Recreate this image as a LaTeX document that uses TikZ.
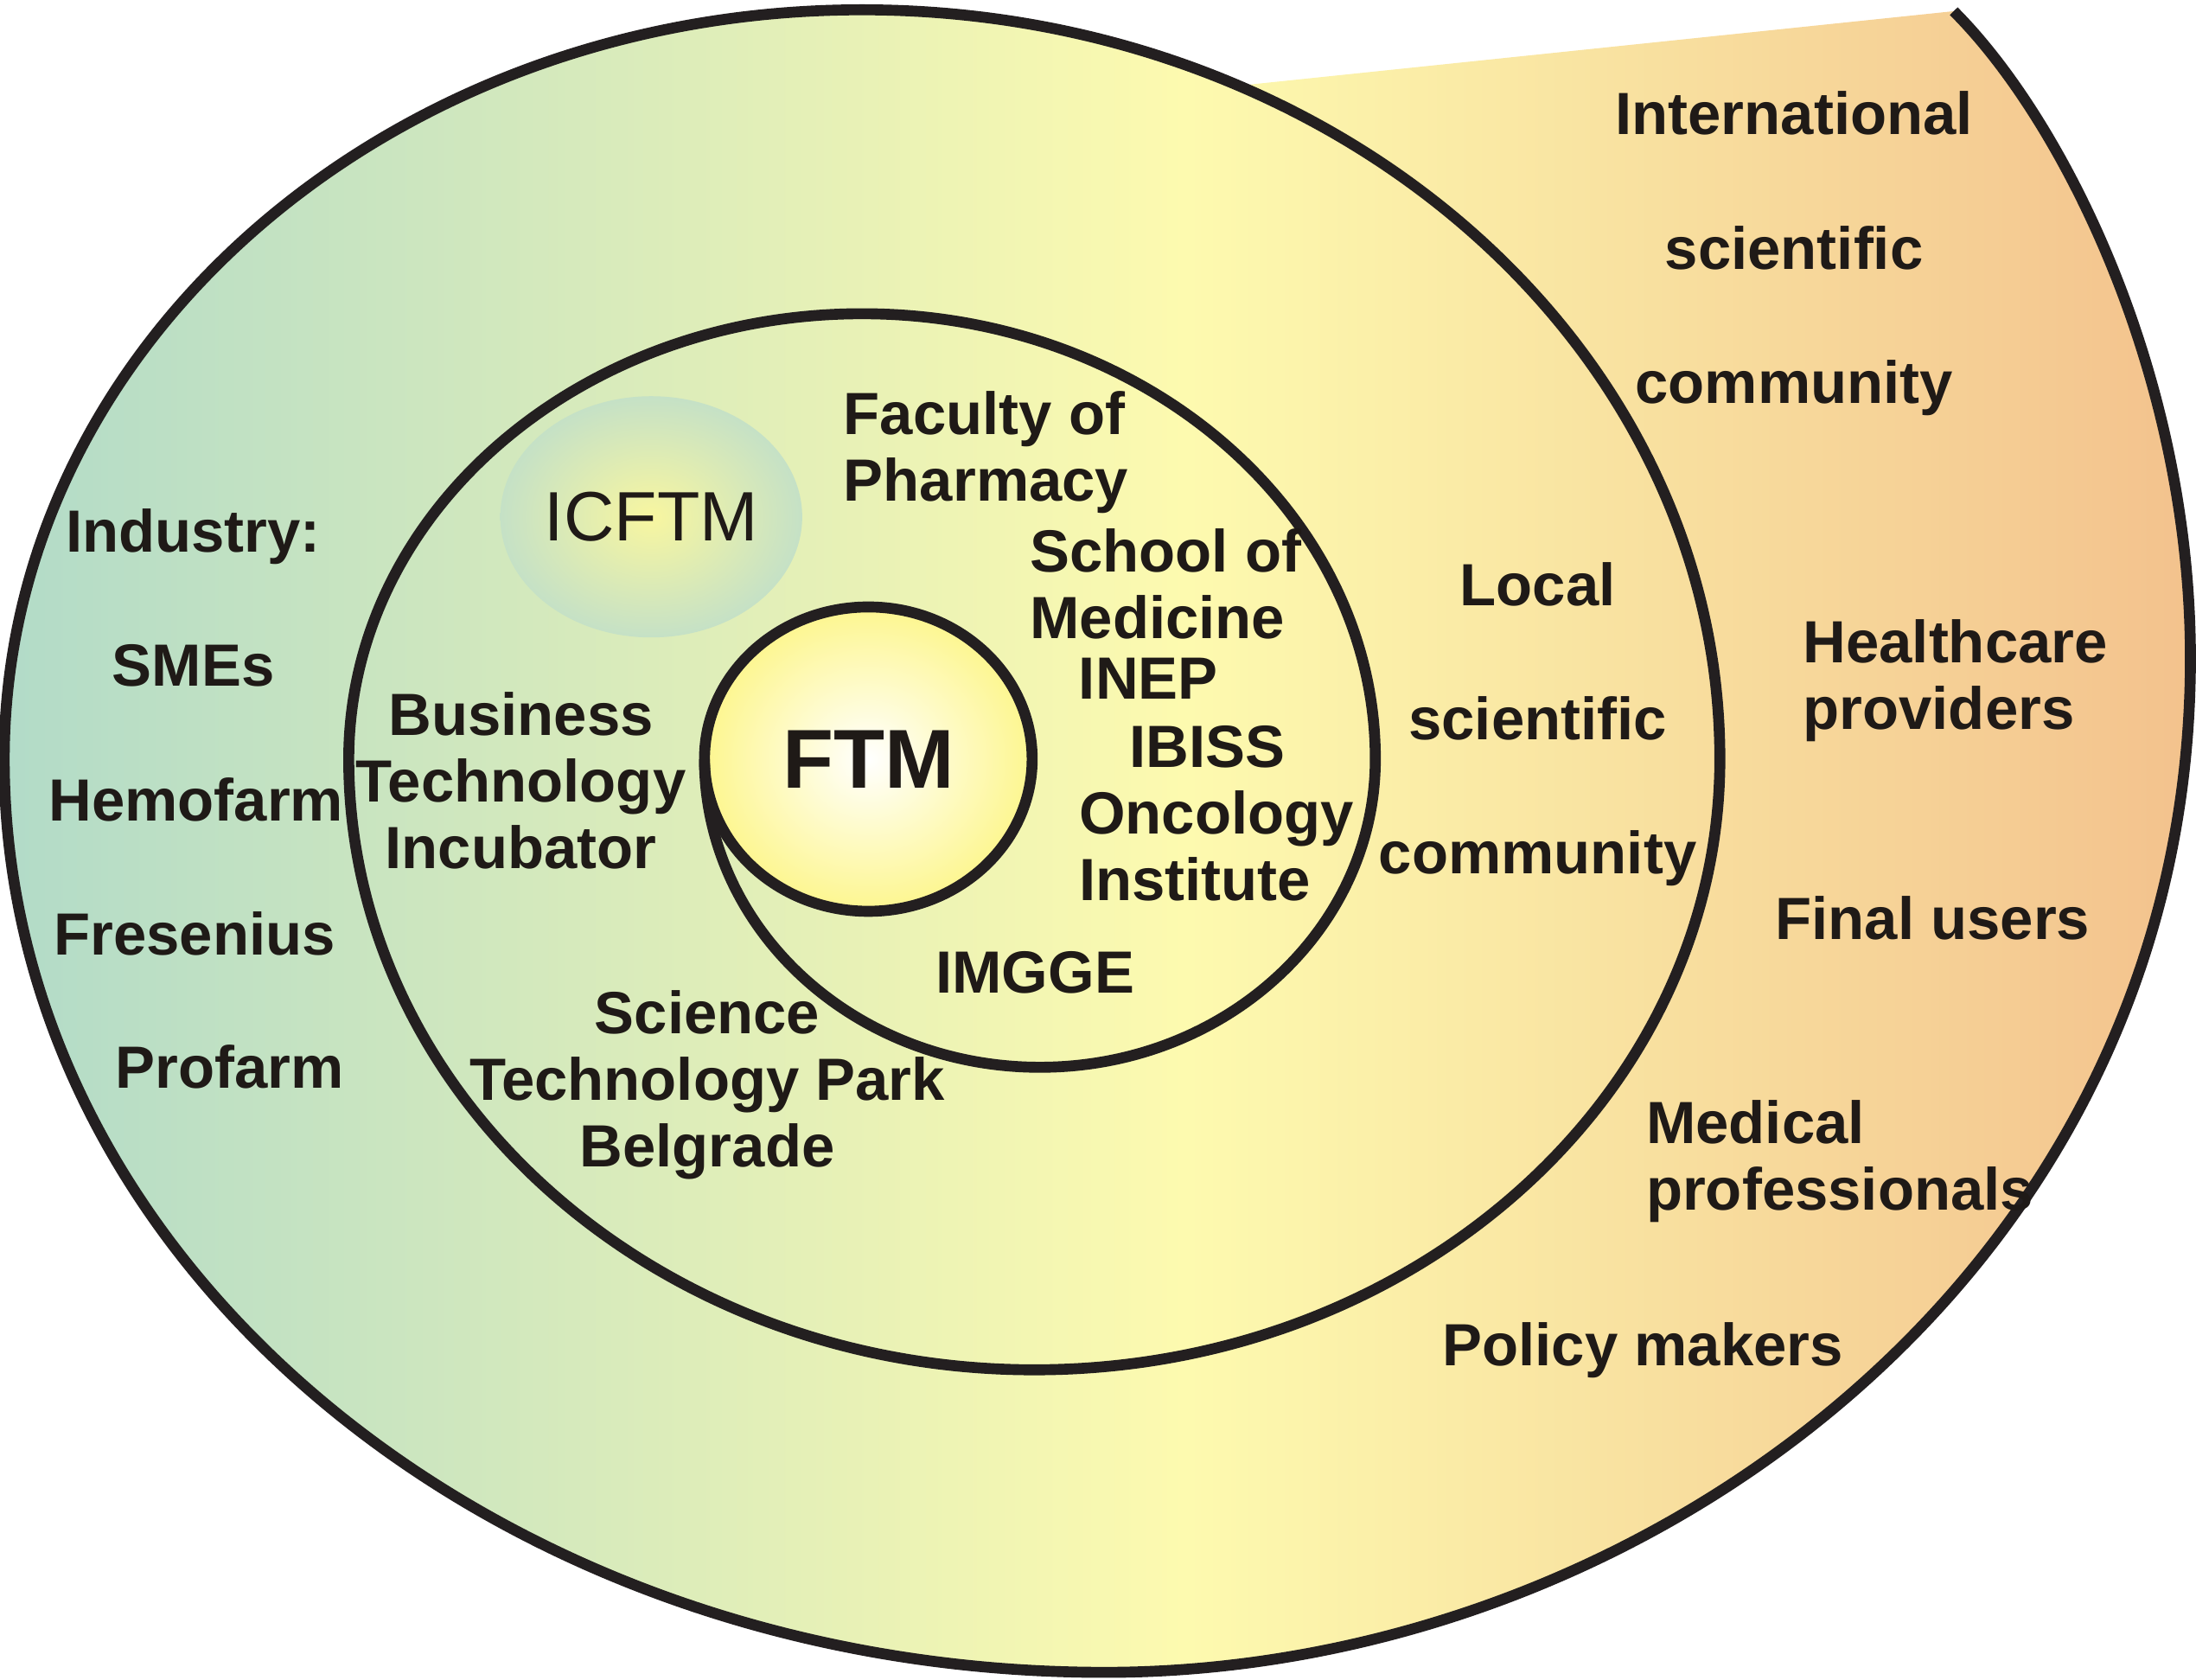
\documentclass[tikz,border=0pt]{standalone}
\usepackage{fontspec}
\setmainfont{Liberation Sans}
\usetikzlibrary{shapes.geometric,calc}

\definecolor{tealside}{HTML}{B2DBC8}
\definecolor{paleyellow}{HTML}{FDFAAF}
\definecolor{peachside}{HTML}{F3C28D}
\definecolor{inkline}{HTML}{231F20}
\definecolor{inktext}{HTML}{1F1A17}
\definecolor{ftmyellow}{HTML}{FDF68F}
\definecolor{icftmcore}{HTML}{F8F6A0}
\definecolor{icftmedge}{HTML}{C5E1C6}

\pgfdeclarehorizontalshading{spiralfade}{100bp}{%
  color(0bp)=(tealside); color(25bp)=(tealside);
  color(52bp)=(paleyellow);
  color(75bp)=(peachside); color(100bp)=(peachside)}

\tikzset{
  spiral line/.style={draw=inkline, line width=3.6pt},
  party/.style={text=inktext, inner sep=0pt, font=\bfseries\fontsize{19.6}{21.9}\selectfont},
  wide party/.style={party, align=center, font=\bfseries\fontsize{19.6}{44.2}\selectfont},
}

\begin{document}
\begin{tikzpicture}[x=0.16199mm, y=-0.16199mm]
\useasboundingbox (0,0) rectangle (1568,1199);

% coloured body of the spiral
\shade[shading=spiralfade] (4,542)
  arc[start angle=180, end angle=90, x radius=786, y radius=652]
  .. controls (1170,1194) and (1564,910) .. (1564,470)
  .. controls (1564,270) and (1475,88) .. (1395,8)
  -- ($(616.5,542)+(296:612.5 and 535)$)
  arc[start angle=296, end angle=180, x radius=612.5, y radius=535]
  -- cycle;

% ICFTM blob
\node[ellipse, inner sep=0pt, inner color=icftmcore, outer color=icftmedge, minimum width=34mm, minimum height=27.9mm,
  text=inktext, font=\fontsize{23}{27}\selectfont] (icftm) at (465,369) {ICFTM};

% core
\node[ellipse, draw=inkline, line width=3.6pt, outer sep=0pt, inner color=white, outer color=ftmyellow,
  minimum width=37.9mm, minimum height=35.2mm, text=inktext, font=\bfseries\fontsize{27.5}{30}\selectfont] (ftm) at (620,542) {FTM};

% spiral line
\draw[spiral line] (ftm.west)
  arc[start angle=180, end angle=0, x radius=239.5, y radius=220]
  arc[start angle=0, end angle=-180, x radius=366.5, y radius=318]
  arc[start angle=180, end angle=0, x radius=489.5, y radius=436]
  arc[start angle=0, end angle=-180, x radius=612.5, y radius=535]
  arc[start angle=180, end angle=90, x radius=786, y radius=652]
  .. controls (1170,1194) and (1564,910) .. (1564,470)
  .. controls (1564,270) and (1475,88) .. (1395,8);

% inner ring
\node[party, align=left, anchor=north west] (pharmacy) at (602,279) {Faculty of\\Pharmacy};
\node[party, align=left, anchor=north west] (medicine) at (735,377) {School of\\Medicine};
\node[party, anchor=base] (inep) at (820,499) {INEP};
\node[party, anchor=base] (ibiss) at (862,548) {IBISS};
\node[party, align=left, anchor=north west] (oncology) at (770,564) {Oncology\\Institute};
\node[party, anchor=base] (imgge) at (739,709) {IMGGE};
\node[party, align=center, anchor=north] (incubator) at (372,494) {Business\\Technology\\Incubator};
\node[party, align=center, anchor=north] (park) at (505,707) {Science\\Technology Park\\Belgrade};

% middle ring
\node[wide party, anchor=north] (local) at (1098,401) {Local\\scientific\\community};
\node[party, anchor=base] (industry) at (138,394) {Industry:};
\node[party, anchor=base] (smes) at (138,490) {SMEs};
\node[party, anchor=base] (hemofarm) at (140,586) {Hemofarm};
\node[party, anchor=base] (fresenius) at (139,682) {Fresenius};
\node[party, anchor=base] (profarm) at (164,777) {Profarm};
\node[party, anchor=base] (policy) at (1173,975) {Policy makers};

% outer tail
\node[wide party, anchor=north] (intl) at (1281,65) {International\\scientific\\community};
\node[party, align=left, anchor=north west] (healthcare) at (1287,442) {Healthcare\\providers};
\node[party, anchor=base] (finalusers) at (1380,671) {Final users};
\node[party, align=left, anchor=north west] (medical) at (1175,785) {Medical\\professionals};
\end{tikzpicture}
\end{document}
